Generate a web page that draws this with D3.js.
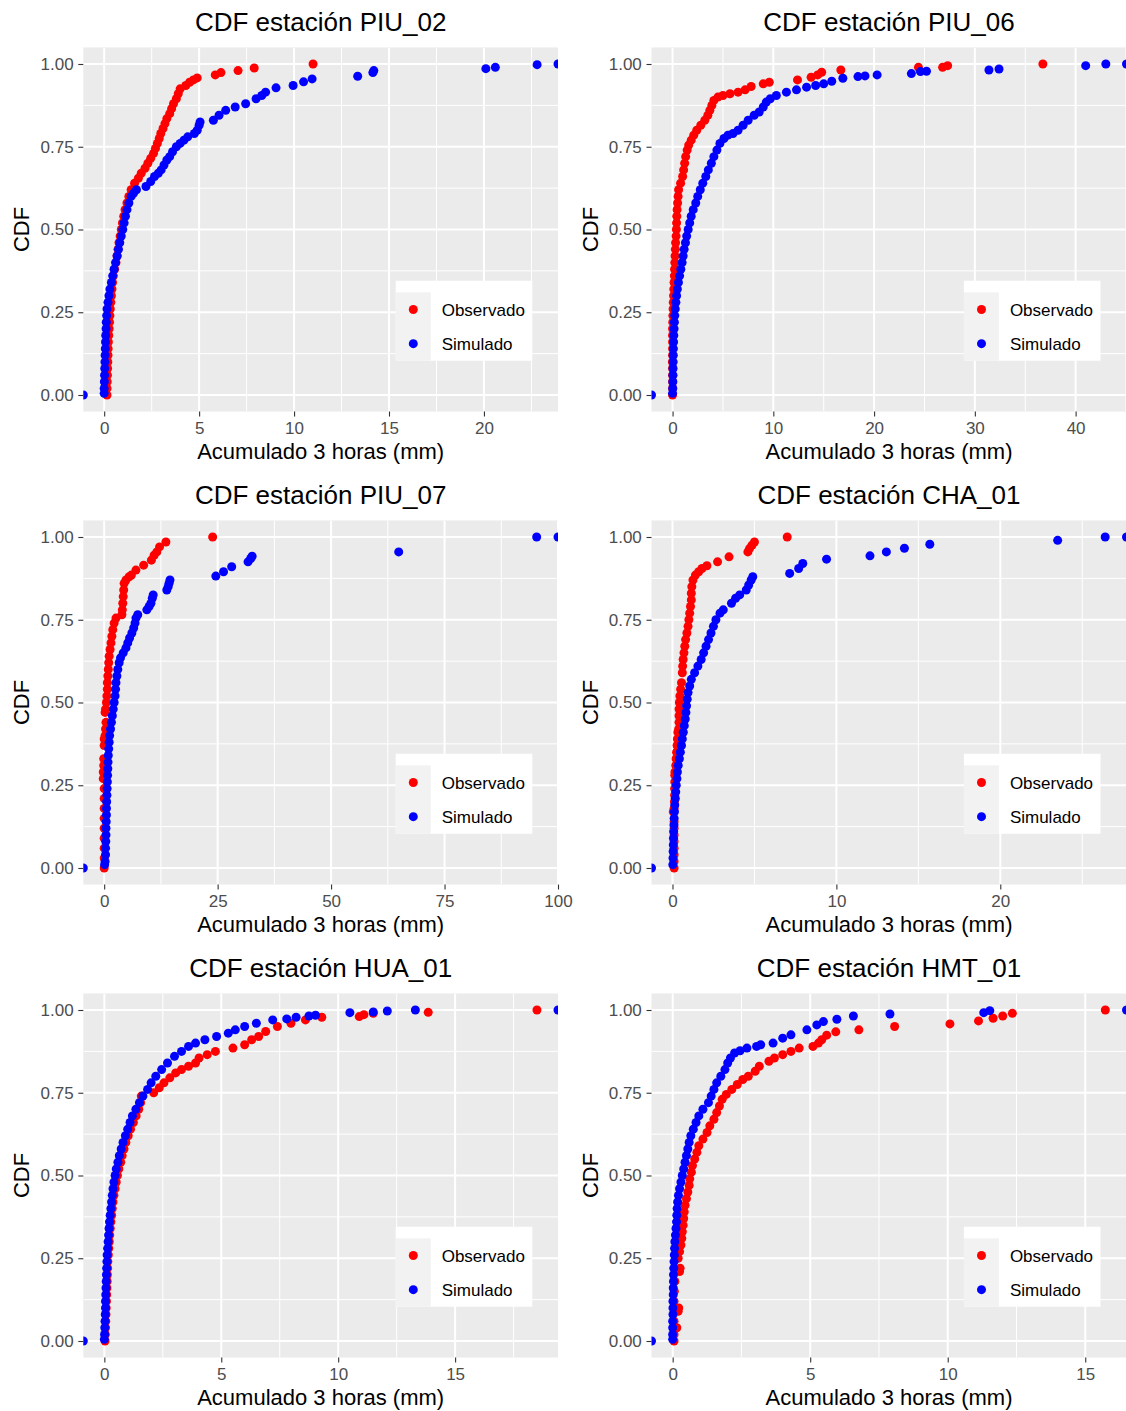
<!DOCTYPE html>
<html><head><meta charset="utf-8">
<script src="https://cdn.jsdelivr.net/npm/d3@7"></script>
<style>
body{margin:0;background:#fff;}
svg{display:block;font-family:"Liberation Sans",Arial,sans-serif;}
</style>
</head><body>
<svg id="chart" width="1126" height="1411"></svg>
<script>
// ---------------- DATA ----------------
const stations = ["PIU_02","PIU_06","PIU_07","CHA_01","HUA_01","HMT_01"];
const seriesNames = ["Observado","Simulado"];
const seriesColors = ["#FF0000","#0000FF"];
const yTickValues = [0,0.25,0.5,0.75,1];
const xTickValues = [[0,5,10,15,20],[0,10,20,30,40],[0,25,50,75,100],[0,10,20],[0,5,10,15],[0,5,10,15]];
const xLabel = "Acumulado 3 horas (mm)";
const yLabel = "CDF";

// [x (mm), CDF]
const obs_PIU_02 = [[0.15,0.0],[0.15,0.02],[0.16,0.04],[0.17,0.06],[0.18,0.08],[0.19,0.10],[0.2,0.12],[0.21,0.14],[0.22,0.16],[0.24,0.18],[0.26,0.20],[0.28,0.22],[0.3,0.24],[0.32,0.26],[0.35,0.28],[0.38,0.30],[0.41,0.32],[0.44,0.34],[0.48,0.36],[0.55,0.38],[0.62,0.40],[0.68,0.42],[0.73,0.44],[0.78,0.46],[0.84,0.48],[0.9,0.50],[0.96,0.52],[1.03,0.54],[1.1,0.56],[1.2,0.58],[1.3,0.60],[1.42,0.62],[1.6,0.64],[1.8,0.655],[1.95,0.67],[2.15,0.685],[2.3,0.70],[2.45,0.715],[2.6,0.73],[2.7,0.745],[2.8,0.76],[2.9,0.775],[2.98,0.79],[3.1,0.805],[3.2,0.82],[3.3,0.835],[3.45,0.85],[3.55,0.865],[3.65,0.88],[3.8,0.895],[3.9,0.91],[4.0,0.925],[4.3,0.935],[4.5,0.945],[4.7,0.952],[4.9,0.958],[5.85,0.967],[6.15,0.974],[7.05,0.98],[7.9,0.988],[11.0,1.0]];
const sim_PIU_02 = [[-1.1,0],[0,0.005],[0,0.02],[0.01,0.04],[0.02,0.06],[0.03,0.08],[0.04,0.10],[0.05,0.12],[0.06,0.14],[0.07,0.16],[0.08,0.18],[0.10,0.20],[0.11,0.22],[0.13,0.24],[0.15,0.26],[0.2,0.28],[0.25,0.30],[0.3,0.32],[0.38,0.34],[0.45,0.36],[0.52,0.38],[0.6,0.40],[0.68,0.42],[0.75,0.44],[0.82,0.46],[0.9,0.48],[0.98,0.50],[1.05,0.52],[1.12,0.54],[1.2,0.56],[1.3,0.58],[1.42,0.60],[1.55,0.61],[1.7,0.62],[2.2,0.63],[2.45,0.645],[2.65,0.66],[2.85,0.67],[3.0,0.68],[3.15,0.695],[3.3,0.71],[3.45,0.72],[3.6,0.735],[3.8,0.75],[4.0,0.76],[4.2,0.77],[4.4,0.78],[4.75,0.79],[4.9,0.80],[5.0,0.815],[5.05,0.825],[5.75,0.83],[6.05,0.845],[6.4,0.86],[6.9,0.87],[7.45,0.88],[8.0,0.895],[8.3,0.905],[8.5,0.915],[9.05,0.928],[9.95,0.935],[10.5,0.946],[10.95,0.955],[13.35,0.963],[14.15,0.974],[14.2,0.98],[20.1,0.986],[20.6,0.99],[22.8,0.998],[23.9,1.0]];

const obs_PIU_06 = [[0.0,0.0],[0.0,0.02],[0.0,0.04],[0.0,0.06],[0.0,0.08],[-0.02,0.10],[0.0,0.12],[0.0,0.14],[0.0,0.16],[0.0,0.18],[0.0,0.20],[0.02,0.22],[0.03,0.24],[0.05,0.26],[0.07,0.28],[0.1,0.30],[0.12,0.32],[0.15,0.34],[0.18,0.36],[0.2,0.38],[0.22,0.40],[0.25,0.42],[0.28,0.44],[0.3,0.46],[0.35,0.48],[0.38,0.50],[0.4,0.52],[0.42,0.54],[0.45,0.56],[0.5,0.58],[0.55,0.60],[0.6,0.62],[0.8,0.64],[1.0,0.66],[1.1,0.68],[1.2,0.70],[1.3,0.72],[1.45,0.74],[1.6,0.755],[1.85,0.77],[2.1,0.785],[2.4,0.80],[2.8,0.815],[3.2,0.83],[3.5,0.845],[3.7,0.86],[3.9,0.875],[4.1,0.89],[4.5,0.90],[5.0,0.905],[5.7,0.91],[6.5,0.915],[7.2,0.922],[7.8,0.932],[9.0,0.94],[9.6,0.945],[12.4,0.952],[13.75,0.96],[14.4,0.967],[14.8,0.975],[16.7,0.982],[24.4,0.99],[26.8,0.99],[27.3,0.995],[36.75,1.0]];
const sim_PIU_06 = [[-2.09,0],[0.0,0.005],[0.02,0.02],[0.03,0.04],[0.04,0.06],[0.05,0.08],[0.06,0.10],[0.07,0.12],[0.08,0.14],[0.1,0.16],[0.12,0.18],[0.15,0.20],[0.18,0.22],[0.22,0.24],[0.27,0.26],[0.33,0.28],[0.4,0.30],[0.48,0.32],[0.58,0.34],[0.7,0.36],[0.82,0.38],[0.95,0.40],[1.05,0.42],[1.15,0.44],[1.28,0.46],[1.4,0.48],[1.55,0.50],[1.7,0.52],[1.85,0.54],[2.05,0.56],[2.3,0.58],[2.5,0.60],[2.75,0.62],[3.0,0.64],[3.3,0.66],[3.55,0.68],[3.85,0.70],[4.1,0.72],[4.4,0.74],[4.7,0.76],[5.1,0.775],[5.5,0.785],[6.0,0.79],[6.5,0.80],[7.0,0.815],[7.5,0.83],[8.1,0.845],[8.6,0.855],[9.0,0.87],[9.3,0.885],[9.7,0.895],[10.3,0.905],[11.3,0.915],[12.3,0.922],[13.3,0.93],[14.2,0.935],[15.0,0.94],[15.8,0.948],[16.9,0.957],[18.4,0.962],[19.1,0.964],[20.3,0.967],[23.7,0.971],[24.6,0.977],[25.2,0.978],[31.4,0.982],[32.4,0.985],[41.0,0.995],[43.0,1.0],[45.05,1.0]];

const obs_PIU_07 = [[0.0,0.0],[0.0,0.03],[0.0,0.06],[0.0,0.09],[0.0,0.12],[0.0,0.15],[0.0,0.18],[0.0,0.21],[0.0,0.24],[-0.2,0.27],[-0.2,0.29],[-0.1,0.31],[-0.1,0.33],[0.0,0.37],[0.0,0.39],[0.2,0.40],[0.3,0.42],[0.4,0.44],[0.2,0.47],[0.3,0.48],[0.5,0.50],[0.6,0.52],[0.7,0.54],[0.7,0.56],[0.8,0.58],[0.9,0.60],[1.0,0.62],[1.1,0.64],[1.3,0.66],[1.5,0.68],[1.7,0.70],[1.9,0.72],[2.2,0.74],[2.6,0.755],[3.9,0.765],[4.0,0.78],[4.1,0.80],[4.2,0.82],[4.3,0.84],[4.4,0.86],[4.8,0.87],[5.5,0.88],[6.0,0.885],[7.0,0.90],[8.7,0.915],[10.4,0.93],[11.0,0.945],[11.6,0.955],[12.2,0.97],[13.6,0.985],[23.9,1.0]];
const sim_PIU_07 = [[-4.6,0],[0.1,0.01],[0.2,0.02],[0.3,0.04],[0.3,0.06],[0.35,0.08],[0.4,0.10],[0.4,0.12],[0.45,0.14],[0.5,0.16],[0.5,0.18],[0.55,0.20],[0.6,0.22],[0.65,0.24],[0.7,0.26],[0.75,0.28],[0.8,0.30],[0.85,0.32],[0.9,0.34],[1.0,0.36],[1.1,0.38],[1.2,0.40],[1.4,0.42],[1.6,0.44],[1.8,0.46],[2.0,0.48],[2.2,0.50],[2.4,0.52],[2.5,0.54],[2.6,0.56],[2.8,0.58],[3.0,0.60],[3.3,0.62],[3.6,0.635],[4.2,0.65],[4.8,0.665],[5.2,0.68],[5.6,0.695],[6.1,0.71],[6.5,0.725],[6.8,0.74],[7.0,0.755],[7.4,0.765],[9.4,0.78],[9.9,0.79],[10.3,0.80],[10.6,0.815],[10.8,0.825],[13.8,0.84],[14.1,0.85],[14.3,0.86],[14.5,0.87],[24.6,0.882],[26.3,0.895],[28.1,0.91],[31.7,0.925],[32.3,0.935],[32.6,0.942],[64.9,0.955],[95.3,1.0],[100,1.0]];

const obs_CHA_01 = [[0.1,0.0],[0.1,0.02],[0.1,0.04],[0.1,0.06],[0.1,0.08],[0.1,0.10],[0.1,0.12],[0.1,0.14],[0.05,0.17],[0.1,0.18],[0.12,0.20],[0.13,0.22],[0.13,0.24],[0.14,0.26],[0.14,0.28],[0.15,0.29],[0.2,0.31],[0.22,0.33],[0.25,0.35],[0.28,0.37],[0.3,0.39],[0.33,0.41],[0.38,0.42],[0.4,0.44],[0.4,0.46],[0.4,0.48],[0.42,0.50],[0.45,0.52],[0.5,0.54],[0.55,0.56],[0.6,0.59],[0.62,0.61],[0.65,0.63],[0.7,0.65],[0.75,0.67],[0.8,0.69],[0.88,0.71],[0.95,0.73],[1.0,0.75],[1.05,0.77],[1.1,0.79],[1.15,0.81],[1.15,0.83],[1.18,0.85],[1.25,0.87],[1.4,0.885],[1.6,0.895],[1.8,0.905],[2.1,0.913],[2.75,0.925],[3.45,0.94],[4.6,0.955],[4.7,0.965],[4.85,0.975],[5.0,0.985],[7.0,1.0]];
const sim_CHA_01 = [[-1.28,0],[0.02,0.01],[0.03,0.03],[0.04,0.05],[0.05,0.07],[0.06,0.09],[0.07,0.11],[0.09,0.13],[0.1,0.15],[0.12,0.17],[0.14,0.19],[0.17,0.21],[0.2,0.23],[0.23,0.25],[0.27,0.27],[0.3,0.29],[0.35,0.31],[0.42,0.33],[0.48,0.35],[0.55,0.37],[0.6,0.39],[0.66,0.41],[0.72,0.43],[0.78,0.45],[0.82,0.47],[0.86,0.49],[0.9,0.51],[0.95,0.53],[1.05,0.55],[1.15,0.57],[1.35,0.59],[1.55,0.61],[1.75,0.63],[1.9,0.65],[2.05,0.67],[2.2,0.69],[2.35,0.71],[2.5,0.73],[2.65,0.75],[2.9,0.77],[3.1,0.78],[3.6,0.80],[3.85,0.815],[4.1,0.825],[4.5,0.84],[4.65,0.855],[4.8,0.87],[4.9,0.88],[7.15,0.89],[7.7,0.905],[7.95,0.92],[9.4,0.933],[12.05,0.943],[13.05,0.955],[14.15,0.966],[15.7,0.978],[23.5,0.99],[26.4,1.0],[27.7,1.0]];

const obs_HUA_01 = [[0.03,0.0],[0.04,0.02],[0.05,0.04],[0.06,0.06],[0.07,0.08],[0.08,0.10],[0.09,0.12],[0.1,0.14],[0.11,0.16],[0.12,0.18],[0.13,0.20],[0.14,0.22],[0.15,0.24],[0.17,0.26],[0.19,0.28],[0.21,0.30],[0.23,0.32],[0.25,0.34],[0.28,0.36],[0.31,0.38],[0.34,0.40],[0.37,0.42],[0.41,0.44],[0.46,0.46],[0.51,0.48],[0.56,0.50],[0.62,0.52],[0.7,0.54],[0.76,0.56],[0.84,0.58],[0.92,0.60],[1.02,0.62],[1.12,0.64],[1.24,0.66],[1.36,0.68],[1.47,0.70],[1.55,0.72],[1.58,0.74],[2.11,0.75],[2.35,0.765],[2.55,0.78],[2.8,0.795],[3.05,0.81],[3.3,0.82],[3.6,0.83],[3.9,0.84],[4.05,0.855],[4.4,0.865],[4.75,0.875],[5.5,0.885],[6.0,0.895],[6.3,0.91],[6.6,0.92],[6.9,0.935],[7.4,0.95],[7.98,0.96],[8.6,0.97],[9.3,0.978],[10.9,0.98],[11.1,0.986],[11.5,0.99],[13.85,0.993],[18.5,1.0]];
const sim_HUA_01 = [[-0.9,0],[0.0,0.005],[0.01,0.02],[0.02,0.04],[0.03,0.06],[0.04,0.08],[0.05,0.10],[0.05,0.12],[0.06,0.14],[0.07,0.16],[0.08,0.18],[0.09,0.20],[0.1,0.22],[0.11,0.24],[0.12,0.26],[0.14,0.28],[0.16,0.30],[0.18,0.32],[0.2,0.34],[0.22,0.36],[0.25,0.38],[0.28,0.40],[0.31,0.42],[0.34,0.44],[0.37,0.46],[0.41,0.48],[0.46,0.50],[0.51,0.52],[0.58,0.54],[0.64,0.56],[0.72,0.58],[0.8,0.60],[0.9,0.62],[1.0,0.64],[1.1,0.66],[1.2,0.68],[1.35,0.70],[1.5,0.72],[1.65,0.74],[1.85,0.76],[2.0,0.78],[2.2,0.80],[2.45,0.82],[2.7,0.84],[3.0,0.86],[3.3,0.875],[3.6,0.89],[3.9,0.90],[4.3,0.91],[4.8,0.92],[5.3,0.93],[5.6,0.94],[6.0,0.95],[6.5,0.96],[7.2,0.97],[7.8,0.973],[8.2,0.978],[8.75,0.982],[9.03,0.984],[10.5,0.992],[11.5,0.994],[12.1,0.997],[13.3,1.0],[19.4,1.0]];

const obs_HMT_01 = [[0.05,0.0],[0.05,0.02],[0.15,0.04],[0.05,0.06],[0.2,0.09],[0.22,0.10],[0.05,0.12],[0.06,0.15],[0.08,0.18],[0.25,0.21],[0.27,0.22],[0.2,0.25],[0.25,0.27],[0.3,0.29],[0.33,0.31],[0.35,0.33],[0.38,0.35],[0.4,0.37],[0.42,0.39],[0.45,0.41],[0.5,0.43],[0.55,0.45],[0.6,0.47],[0.62,0.49],[0.68,0.51],[0.72,0.53],[0.8,0.55],[0.88,0.57],[0.95,0.59],[1.1,0.61],[1.25,0.63],[1.35,0.65],[1.5,0.67],[1.6,0.69],[1.7,0.71],[1.8,0.73],[1.95,0.745],[2.15,0.76],[2.35,0.775],[2.55,0.79],[2.75,0.80],[3.0,0.815],[3.15,0.83],[3.5,0.845],[3.7,0.855],[4.0,0.865],[4.3,0.875],[4.6,0.885],[5.1,0.89],[5.3,0.90],[5.42,0.91],[5.6,0.924],[5.93,0.934],[6.77,0.94],[8.07,0.95],[10.08,0.958],[11.12,0.967],[11.65,0.975],[12.0,0.982],[12.35,0.99],[15.73,1.0]];
const sim_HMT_01 = [[-0.77,0],[0.0,0.005],[0.0,0.02],[0.0,0.04],[0.0,0.06],[0.01,0.08],[0.01,0.10],[0.01,0.12],[0.02,0.14],[0.02,0.16],[0.03,0.18],[0.03,0.20],[0.04,0.22],[0.05,0.24],[0.06,0.26],[0.07,0.28],[0.08,0.30],[0.1,0.32],[0.12,0.34],[0.14,0.36],[0.15,0.38],[0.16,0.40],[0.18,0.42],[0.21,0.44],[0.25,0.46],[0.3,0.48],[0.35,0.50],[0.4,0.52],[0.45,0.54],[0.5,0.56],[0.55,0.58],[0.6,0.60],[0.66,0.62],[0.75,0.64],[0.85,0.66],[0.95,0.68],[1.1,0.70],[1.3,0.72],[1.4,0.74],[1.5,0.76],[1.6,0.78],[1.75,0.80],[1.9,0.82],[2.0,0.84],[2.1,0.855],[2.25,0.87],[2.45,0.877],[2.7,0.885],[3.05,0.89],[3.2,0.895],[3.65,0.90],[4.0,0.915],[4.3,0.925],[4.88,0.94],[5.24,0.955],[5.48,0.965],[5.97,0.972],[6.57,0.982],[7.9,0.988],[11.31,0.992],[11.53,0.998],[16.5,1.0]];

const obsData = [obs_PIU_02, obs_PIU_06, obs_PIU_07, obs_CHA_01, obs_HUA_01, obs_HMT_01];
const simData = [sim_PIU_02, sim_PIU_06, sim_PIU_07, sim_CHA_01, sim_HUA_01, sim_HMT_01];

// ---------------- LAYOUT ----------------
const colL = [83.3, 651.5], colR = [558, 1126.5];
const rowT0 = 47.45, rowStep = 473, plotH = 364.1;
const PT_R = 4.5;

const svg = d3.select("#chart");
svg.append("rect").attr("width",1126).attr("height",1411).attr("fill","#fff");
const defs = svg.append("defs");

stations.forEach((st, i) => {
  const col = i % 2, row = Math.floor(i / 2);
  const L = colL[col], R = colR[col], T = rowT0 + rowStep*row, B = T + plotH;
  const obs = obsData[i], sim = simData[i];
  const all = obs.concat(sim);
  const x = d3.scaleLinear().domain(d3.extent(all, d => d[0])).range([L, R]);
  const y = d3.scaleLinear().domain([-0.05, 1.05]).range([B, T]);
  const g = svg.append("g");

  g.append("rect").attr("x",L).attr("y",T).attr("width",R-L).attr("height",B-T).attr("fill","#EBEBEB");

  const clipId = "clip"+i;
  defs.append("clipPath").attr("id",clipId).append("rect")
    .attr("x",L).attr("y",T).attr("width",R-L).attr("height",B-T);

  // grid
  const xt = xTickValues[i];
  const stepX = xt[1]-xt[0];
  const xMinor = [xt[0]-stepX/2].concat(xt.map(v => v + stepX/2)).filter(v => v >= x.domain()[0] && v <= x.domain()[1]);
  const yMinor = [0.125,0.375,0.625,0.875];
  const grid = g.append("g").attr("clip-path",`url(#${clipId})`);
  grid.selectAll(".yminor").data(yMinor).enter().append("line")
    .attr("x1",L).attr("x2",R).attr("y1",d=>y(d)).attr("y2",d=>y(d))
    .attr("stroke","#fff").attr("stroke-width",1);
  grid.selectAll(".xminor").data(xMinor).enter().append("line")
    .attr("y1",T).attr("y2",B).attr("x1",d=>x(d)).attr("x2",d=>x(d))
    .attr("stroke","#fff").attr("stroke-width",1);
  grid.selectAll(".ymajor").data(yTickValues).enter().append("line")
    .attr("x1",L).attr("x2",R).attr("y1",d=>y(d)).attr("y2",d=>y(d))
    .attr("stroke","#fff").attr("stroke-width",2);
  grid.selectAll(".xmajor").data(xt).enter().append("line")
    .attr("y1",T).attr("y2",B).attr("x1",d=>x(d)).attr("x2",d=>x(d))
    .attr("stroke","#fff").attr("stroke-width",2);

  // points
  const pts = g.append("g").attr("clip-path",`url(#${clipId})`);
  [obs, sim].forEach((ser, k) => {
    pts.append("g").selectAll("circle").data(ser).enter().append("circle")
      .attr("cx", d => x(d[0])).attr("cy", d => y(d[1])).attr("r", PT_R)
      .attr("fill", seriesColors[k]);
  });

  // axes
  const yAxis = d3.axisLeft(y).tickValues(yTickValues).tickFormat(d3.format(".2f")).tickSize(5).tickPadding(4.7);
  const ya = g.append("g").attr("transform",`translate(${L},0)`).call(yAxis);
  const xAxis = d3.axisBottom(x).tickValues(xt).tickFormat(d3.format("d")).tickSize(5).tickPadding(5.2);
  const xa = g.append("g").attr("transform",`translate(0,${B})`).call(xAxis);
  [ya, xa].forEach(a => {
    a.select(".domain").remove();
    a.selectAll(".tick line").attr("stroke","#333333").attr("stroke-width",1.1);
    a.selectAll(".tick text").attr("fill","#4D4D4D").style("font-size","17px")
      .style("font-family",'"Liberation Sans",Arial,sans-serif');
  });

  // titles
  g.append("text").attr("x",(L+R)/2).attr("y",T-16.3).attr("text-anchor","middle")
    .style("font-size","26px").attr("fill","#000").text("CDF estación " + st);
  g.append("text").attr("x",(L+R)/2).attr("y",B+47.8).attr("text-anchor","middle")
    .style("font-size","22px").attr("fill","#000").text(xLabel);
  g.append("text").attr("transform",`translate(${L-53.9},${(T+B)/2}) rotate(-90)`).attr("text-anchor","middle")
    .style("font-size","22px").attr("fill","#000").text(yLabel);

  // legend
  const lx = L + 312.4, ly = T + 233.3;
  const lg = g.append("g");
  lg.append("rect").attr("x",lx).attr("y",ly).attr("width",136.6).attr("height",80).attr("fill","#fff");
  lg.append("rect").attr("x",lx).attr("y",ly+11.6).attr("width",35).attr("height",68.4).attr("fill","#F2F2F2");
  seriesNames.forEach((nm, k) => {
    const cy = ly + 11.6 + 17.1 + 34.2*k;
    lg.append("circle").attr("cx",lx+17.6).attr("cy",cy).attr("r",PT_R).attr("fill",seriesColors[k]);
    lg.append("text").attr("x",lx+46).attr("y",cy+6.1).style("font-size","17px").attr("fill","#000").text(nm);
  });
});
</script>
</body></html>
